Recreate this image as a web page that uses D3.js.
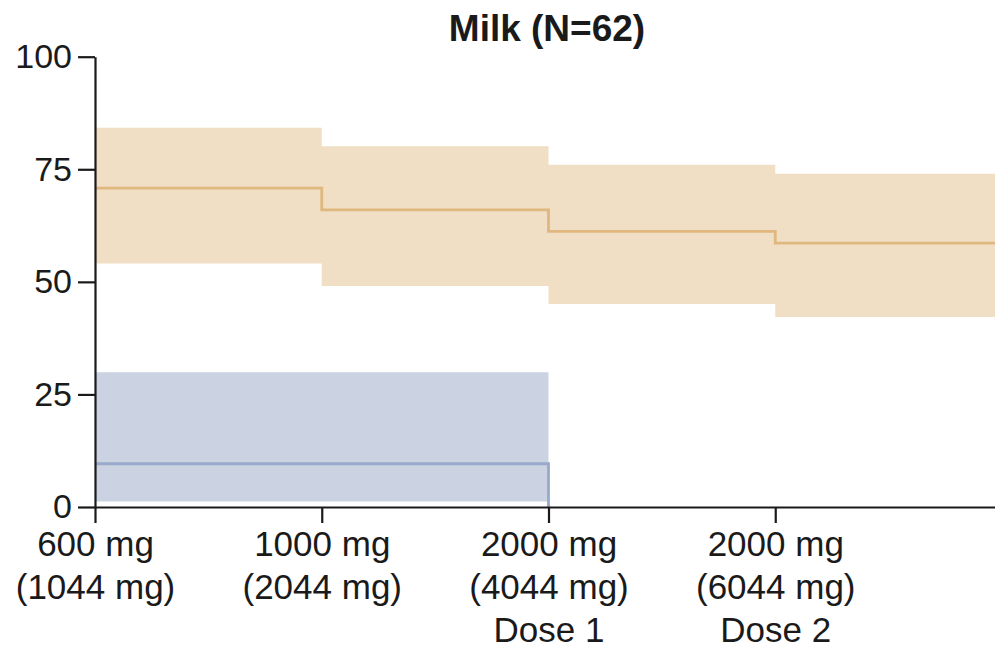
<!DOCTYPE html>
<html>
<head>
<meta charset="utf-8">
<script src="https://cdn.jsdelivr.net/npm/d3@7"></script>
<style>
  html, body { margin: 0; padding: 0; background: #ffffff; }
  svg { display: block; }
  text { font-family: "Liberation Sans", Arial, sans-serif; fill: #1a1a1a; }
</style>
</head>
<body>
<svg id="chart" width="995" height="650"></svg>
<script>
// Dose steps (interval boundaries along the x axis)
const steps = [0, 1, 2, 3, 4];
const doseLabels = [
  ["600 mg", "(1044 mg)"],
  ["1000 mg", "(2044 mg)"],
  ["2000 mg", "(4044 mg)", "Dose 1"],
  ["2000 mg", "(6044 mg)", "Dose 2"]
];
const yTicks = [0, 25, 50, 75, 100];

// Milk group: estimate with lower / upper confidence bounds per interval
const milkEst = [70.8, 66.0, 61.2, 58.6];
const milkLo  = [54.1, 49.1, 45.1, 42.2];
const milkHi  = [84.2, 80.1, 76.0, 74.0];

// Comparison group: covers the first two intervals only
const compEst = [9.6, 9.6];
const compLo  = [1.2, 1.2];
const compHi  = [29.9, 29.9];

const title = "Milk (N=62)";

const svg = d3.select("#chart");

const x = d3.scaleLinear().domain([0, 4]).range([95, 1002]);
const y = d3.scaleLinear().domain([0, 100]).range([507, 56.7]);

// Build step points: one point per interval start plus a closing point
function stepPoints(est, lo, hi) {
  const pts = est.map((v, i) => ({ x: steps[i], est: v, lo: lo[i], hi: hi[i] }));
  const last = pts[pts.length - 1];
  pts.push({ x: steps[est.length], est: last.est, lo: last.lo, hi: last.hi });
  return pts;
}

const milkPts = stepPoints(milkEst, milkLo, milkHi);
const compPts = stepPoints(compEst, compLo, compHi);

const band = d3.area()
  .curve(d3.curveStepAfter)
  .x(d => x(d.x))
  .y0(d => y(d.lo))
  .y1(d => y(d.hi));

const line = d3.line()
  .curve(d3.curveStepAfter)
  .x(d => x(d.x))
  .y(d => y(d.est));

// Confidence bands
svg.append("path").datum(milkPts)
  .attr("d", band).attr("fill", "#f0dfc4");
svg.append("path").datum(compPts)
  .attr("d", band).attr("fill", "#cbd3e2");

// Estimate lines
svg.append("path").datum(milkPts)
  .attr("d", line).attr("fill", "none")
  .attr("stroke", "#dfb77f").attr("stroke-width", 2.8);

// Comparison line drops back to zero at the end of its last interval
const compLinePts = compPts.slice(0, -1).concat([{ x: steps[compEst.length], est: 0 }]);
svg.append("path").datum(compLinePts)
  .attr("d", line).attr("fill", "none")
  .attr("stroke", "#98a9cb").attr("stroke-width", 2.8);

// Y axis
const yAxis = svg.append("g")
  .attr("transform", `translate(${x(0)},0)`)
  .call(d3.axisLeft(y).tickValues(yTicks).tickSize(17).tickSizeOuter(0).tickPadding(6));
yAxis.selectAll("text")
  .attr("font-size", 34)
  .attr("font-family", "Liberation Sans, Arial, sans-serif")
  .attr("fill", "#1a1a1a");

// X axis
const xAxis = svg.append("g")
  .attr("transform", `translate(0,${y(0)})`)
  .call(d3.axisBottom(x).tickValues(steps.slice(0, 4)).tickSize(16).tickSizeOuter(0).tickFormat(""));

svg.selectAll(".domain, .tick line")
  .attr("stroke", "#1a1a1a").attr("stroke-width", 2.2);

// Multi-line dose labels under the x ticks
xAxis.selectAll(".tick").each(function (d, i) {
  const t = d3.select(this).append("text")
    .attr("text-anchor", "middle")
    .attr("font-size", 35)
    .attr("fill", "#1a1a1a");
  doseLabels[i].forEach((s, k) => {
    t.append("tspan").attr("x", 0).attr("y", 49 + k * 43).text(s);
  });
});

// Title
svg.append("text")
  .attr("x", 547).attr("y", 41)
  .attr("text-anchor", "middle")
  .attr("font-size", 37)
  .attr("font-weight", "bold")
  .text(title);
</script>
</body>
</html>
